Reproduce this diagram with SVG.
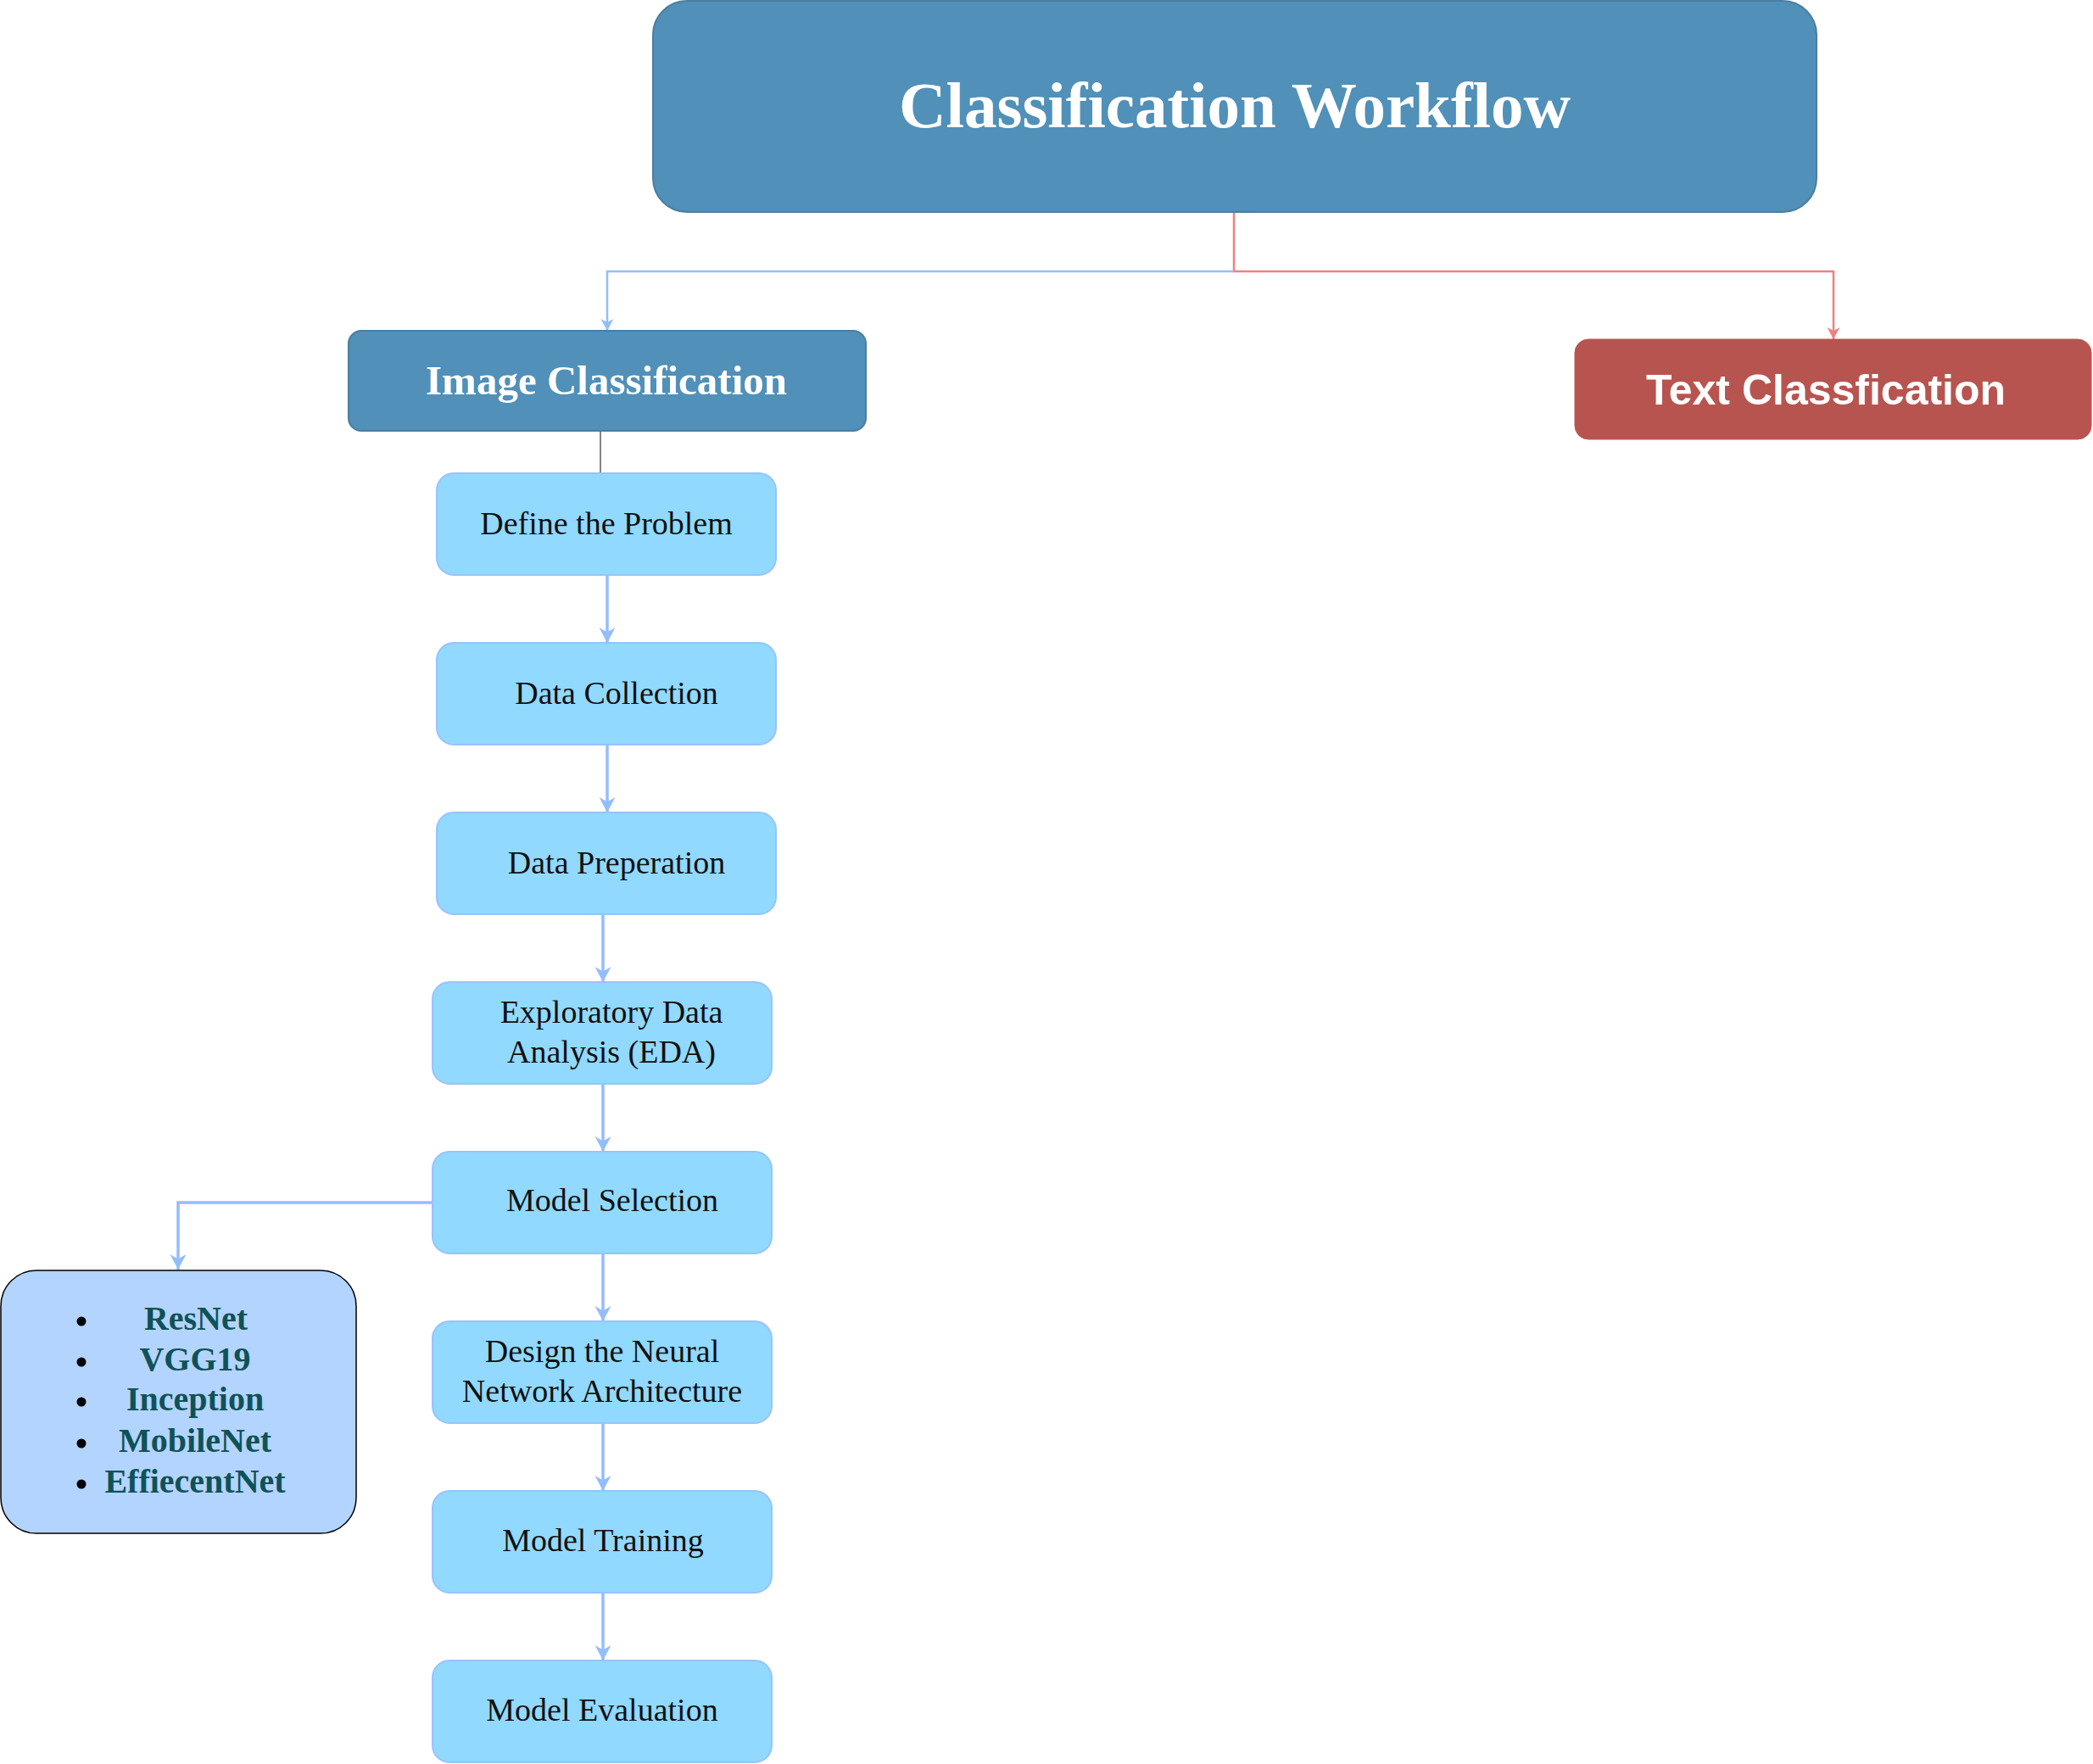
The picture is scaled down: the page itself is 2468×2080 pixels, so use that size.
<svg xmlns="http://www.w3.org/2000/svg" width="2468" height="2080" viewBox="0 0 2468 2080">
<style>
.step rect{fill:#91d9ff;stroke:#99c2ff;stroke-width:2}
.step text{font-family:"Liberation Serif",serif;font-size:38px;fill:#111;text-anchor:middle}
.head rect{fill:#5190b8;stroke:#4a7ea3;stroke-width:2}
.head text{font-family:"Liberation Serif",serif;font-weight:bold;fill:#fff;text-anchor:middle}
.list text{font-family:"Liberation Serif",serif;font-weight:bold;font-size:40px;fill:#0f5257;text-anchor:middle}
.blue{fill:none;stroke:#94bdff;stroke-width:3.5}
.blueThin{fill:none;stroke:#94bdff;stroke-width:2.5}
.red{fill:none;stroke:#f08080;stroke-width:2.5}
</style>
<defs>
<marker id="ab" markerUnits="userSpaceOnUse" markerWidth="26" markerHeight="26" viewBox="-22 -13 26 26" refX="0" refY="0" orient="auto">
<path d="M0,0 L-18,-9.5 L-12.5,0 L-18,9.5 Z" fill="#94bdff"/>
</marker>
<marker id="abs" markerUnits="userSpaceOnUse" markerWidth="20" markerHeight="20" viewBox="-16 -10 20 20" refX="0" refY="0" orient="auto">
<path d="M0,0 L-14,-7.5 L-10,0 L-14,7.5 Z" fill="#94bdff"/>
</marker>
<marker id="ar" markerUnits="userSpaceOnUse" markerWidth="20" markerHeight="20" viewBox="-16 -10 20 20" refX="0" refY="0" orient="auto">
<path d="M0,0 L-14,-7.5 L-10,0 L-14,7.5 Z" fill="#f08080"/>
</marker>
</defs>

<g id="connectors">
<path class="red" d="M1455,250 V320 H2162 V400" marker-end="url(#ar)"/>
<path class="blueThin" d="M1455,320 H716 V390" marker-end="url(#abs)"/>
<path d="M708,508 V558" fill="none" stroke="#333" stroke-width="1.2"/>
<path class="blue" d="M716,678 V758" marker-end="url(#ab)"/>
<path class="blue" d="M716,878 V958" marker-end="url(#ab)"/>
<path class="blue" d="M711,1078 V1158" marker-end="url(#ab)"/>
<path class="blue" d="M711,1278 V1358" marker-end="url(#ab)"/>
<path class="blue" d="M711,1478 V1558" marker-end="url(#ab)"/>
<path class="blue" d="M711,1678 V1758" marker-end="url(#ab)"/>
<path class="blue" d="M711,1878 V1958" marker-end="url(#ab)"/>
<path class="blue" d="M510,1418 H210 V1497" marker-end="url(#ab)"/>
</g>

<g id="classification-workflow" class="head">
<rect x="770" y="1" width="1372" height="249" rx="40" ry="40"/>
<text x="1456" y="150" font-size="77">Classification Workflow</text>
</g>

<g id="image-classification" class="head">
<rect x="411" y="390" width="610" height="118" rx="15" ry="15"/>
<text x="715" y="465" font-size="49">Image Classification</text>
</g>

<g id="text-classification">
<rect x="1857" y="400" width="609" height="118" rx="16" ry="16" fill="#b85450" stroke="#b85450" stroke-width="1"/>
<text x="2153" y="477" font-family="'Liberation Sans',Arial,sans-serif" font-weight="bold" font-size="50" fill="#fff" text-anchor="middle">Text Classfication</text>
</g>

<g id="define-problem" class="step">
<rect x="515" y="558" width="400" height="120" rx="20" ry="20"/>
<text x="715" y="630">Define the Problem</text>
</g>

<g id="data-collection" class="step">
<rect x="515" y="758" width="400" height="120" rx="20" ry="20"/>
<text x="727" y="830">Data Collection</text>
</g>

<g id="data-preperation" class="step">
<rect x="515" y="958" width="400" height="120" rx="20" ry="20"/>
<text x="727" y="1030">Data Preperation</text>
</g>

<g id="eda" class="step">
<rect x="510" y="1158" width="400" height="120" rx="20" ry="20"/>
<text x="721" y="1206">Exploratory Data</text>
<text x="721" y="1253">Analysis (EDA)</text>
</g>

<g id="model-selection" class="step">
<rect x="510" y="1358" width="400" height="120" rx="20" ry="20"/>
<text x="722" y="1428">Model Selection</text>
</g>

<g id="design-nn" class="step">
<rect x="510" y="1558" width="400" height="120" rx="20" ry="20"/>
<text x="710" y="1606">Design the Neural</text>
<text x="710" y="1653">Network Architecture</text>
</g>

<g id="model-training" class="step">
<rect x="510" y="1758" width="400" height="120" rx="20" ry="20"/>
<text x="711" y="1829">Model Training</text>
</g>

<g id="model-evaluation" class="step">
<rect x="510" y="1958" width="400" height="120" rx="20" ry="20"/>
<text x="710" y="2029">Model Evaluation</text>
</g>

<g id="model-list" class="list">
<rect x="1" y="1498" width="419" height="310" rx="42" ry="42" fill="#b3d4ff" stroke="#000" stroke-width="1.5"/>
<circle cx="96" cy="1558" r="5.5" fill="#000"/>
<circle cx="96" cy="1606" r="5.5" fill="#000"/>
<circle cx="96" cy="1653" r="5.5" fill="#000"/>
<circle cx="96" cy="1702" r="5.5" fill="#000"/>
<circle cx="96" cy="1750" r="5.5" fill="#000"/>
<text x="231" y="1568">ResNet</text>
<text x="230" y="1616">VGG19</text>
<text x="230" y="1663">Inception</text>
<text x="230" y="1712">MobileNet</text>
<text x="230" y="1760">EffiecentNet</text>
</g>
</svg>
